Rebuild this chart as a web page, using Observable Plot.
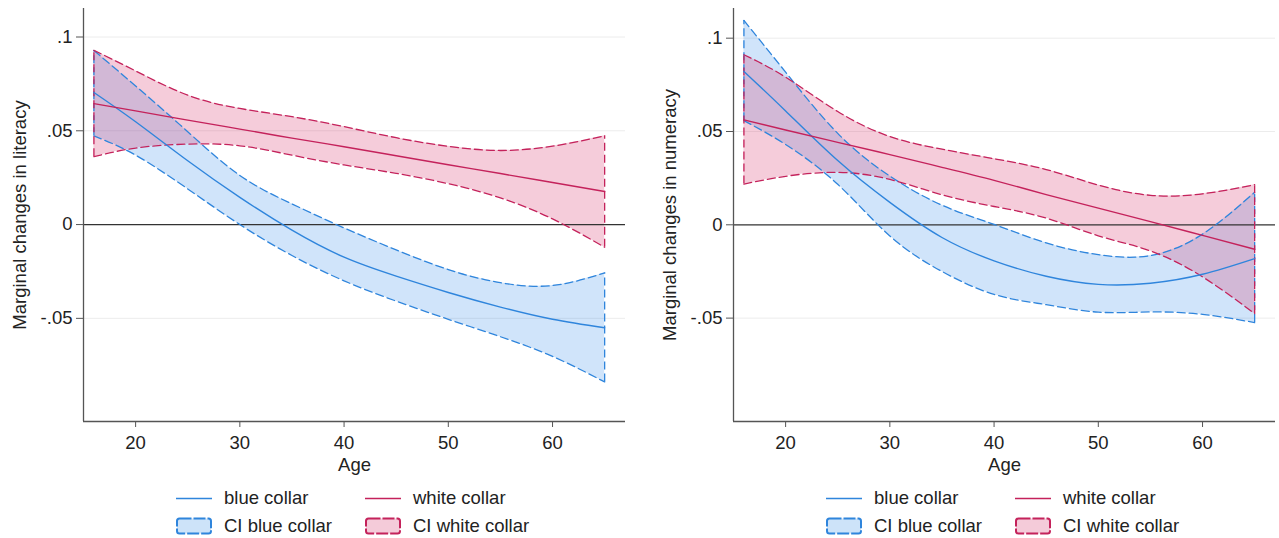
<!DOCTYPE html>
<html><head><meta charset="utf-8">
<script src="https://cdn.jsdelivr.net/npm/d3@7"></script>
<script src="https://cdn.jsdelivr.net/npm/@observablehq/plot@0.6"></script>
<style>
body{margin:0;background:#fff;font-family:"Liberation Sans",Arial,sans-serif;}
#wrap{display:flex;width:1279px;height:538px;overflow:hidden;}
.panel{position:relative;}
.legend{position:relative;height:63px;font-size:18.5px;color:#222;}
.legend .t{position:absolute;line-height:24px;white-space:nowrap;}
.legend svg{position:absolute;overflow:visible;}
</style></head><body><div id="wrap"></div><script>
// ---- data ----
const ages = [16, 20, 25, 30, 35, 40, 45, 50, 55, 60, 65];

const litBlue    = [0.0704, 0.0548, 0.0340, 0.0145, -0.0030, -0.0174, -0.0275, -0.0362, -0.0440, -0.0505, -0.0550];
const litBlueHi  = [0.0928, 0.0739, 0.0495, 0.0262, 0.0110, -0.0018, -0.0135, -0.0240, -0.0310, -0.0325, -0.0258];
const litBlueLo  = [0.0473, 0.0370, 0.0190, 0.0000, -0.0165, -0.0300, -0.0408, -0.0505, -0.0598, -0.0703, -0.0839];
const litWhite   = [0.0645, 0.0606, 0.0557, 0.0509, 0.0461, 0.0415, 0.0367, 0.0319, 0.0272, 0.0224, 0.0176];
const litWhiteHi = [0.0929, 0.0819, 0.0690, 0.0619, 0.0575, 0.0522, 0.0463, 0.0417, 0.0395, 0.0418, 0.0473];
const litWhiteLo = [0.0362, 0.0408, 0.0429, 0.0420, 0.0370, 0.0318, 0.0273, 0.0218, 0.0142, 0.0030, -0.0121];

const numBlue    = [0.0822, 0.0610, 0.0344, 0.0120, -0.0068, -0.0193, -0.0276, -0.0319, -0.0313, -0.0265, -0.0181];
const numBlueHi  = [0.1095, 0.0818, 0.0490, 0.0261, 0.0105, 0.0002, -0.0097, -0.0160, -0.0165, -0.0050, 0.0174];
const numBlueLo  = [0.0558, 0.0430, 0.0217, -0.0060, -0.0250, -0.0373, -0.0428, -0.0468, -0.0467, -0.0480, -0.0524];
const numWhite   = [0.0562, 0.0508, 0.0442, 0.0376, 0.0308, 0.0238, 0.0162, 0.0089, 0.0017, -0.0057, -0.0131];
const numWhiteHi = [0.0911, 0.0791, 0.0607, 0.0473, 0.0405, 0.0354, 0.0296, 0.0213, 0.0158, 0.0166, 0.0215];
const numWhiteLo = [0.0218, 0.0260, 0.0281, 0.0243, 0.0161, 0.0098, 0.0036, -0.0059, -0.0140, -0.0279, -0.0476];

const xTicks = [20, 30, 40, 50, 60];
const yTicks = [-0.05, 0, 0.05, 0.1];
const gridTicks = [-0.05, 0.05, 0.1];
const xLabel = "Age";
const yLabels = ["Marginal changes in literacy", "Marginal changes in numeracy"];
const legendLabels = ["blue collar", "white collar", "CI blue collar", "CI white collar"];

// ---- styling ----
const BLUE = "#2f85dc", BLUE_FILL = "#2a82e6";
const PINK = "#c4225b", PINK_FILL = "#d8336d";
const DASH = "8,4";

const fmt = d => d === 0 ? "0" : String(d).replace("0.", ".");

function build(blue, blueHi, blueLo, white, whiteHi, whiteLo) {
  return ages.map((age, i) => ({age, blue: blue[i], blueHi: blueHi[i], blueLo: blueLo[i],
    white: white[i], whiteHi: whiteHi[i], whiteLo: whiteLo[i]}));
}

function chart(rows, yLabel, width, marginRight, yDomain) {
  const ends = rows.filter((d, i) => i === 0 || i === rows.length - 1);
  return Plot.plot({
    width, height: 475,
    marginLeft: 83, marginRight, marginTop: 8, marginBottom: 54,
    x: {domain: [15, 67]},
    y: {domain: yDomain},
    style: {fontFamily: "'Liberation Sans', Arial, sans-serif", fontSize: "18.5px", color: "#222", background: "#fff", overflow: "visible"},
    marks: [
      Plot.ruleY(gridTicks, {stroke: "#ececec", strokeWidth: 1}),
      Plot.areaY(rows, {x: "age", y1: "blueLo", y2: "blueHi", fill: BLUE_FILL, fillOpacity: 0.22, curve: "natural"}),
      Plot.areaY(rows, {x: "age", y1: "whiteLo", y2: "whiteHi", fill: PINK_FILL, fillOpacity: 0.25, curve: "natural"}),
      Plot.ruleY([0], {stroke: "#333", strokeWidth: 1.3}),
      Plot.lineY(rows, {x: "age", y: "blueHi", stroke: BLUE, strokeWidth: 1.3, strokeDasharray: DASH, curve: "natural"}),
      Plot.lineY(rows, {x: "age", y: "blueLo", stroke: BLUE, strokeWidth: 1.3, strokeDasharray: DASH, curve: "natural"}),
      Plot.ruleX(ends, {x: "age", y1: "blueLo", y2: "blueHi", stroke: BLUE, strokeWidth: 1.3, strokeDasharray: DASH}),
      Plot.lineY(rows, {x: "age", y: "whiteHi", stroke: PINK, strokeWidth: 1.3, strokeDasharray: DASH, curve: "natural"}),
      Plot.lineY(rows, {x: "age", y: "whiteLo", stroke: PINK, strokeWidth: 1.3, strokeDasharray: DASH, curve: "natural"}),
      Plot.ruleX(ends, {x: "age", y1: "whiteLo", y2: "whiteHi", stroke: PINK, strokeWidth: 1.3, strokeDasharray: DASH}),
      Plot.lineY(rows, {x: "age", y: "blue", stroke: BLUE, strokeWidth: 1.4, curve: "natural"}),
      Plot.lineY(rows, {x: "age", y: "white", stroke: PINK, strokeWidth: 1.4, curve: "natural"}),
      Plot.ruleX([15], {stroke: "#555", strokeWidth: 1.3}),
      Plot.ruleY([yDomain[0]], {stroke: "#555", strokeWidth: 1.3}),
      Plot.axisX({ticks: xTicks, tickSize: 6, tickPadding: 8, stroke: "#555",
        label: xLabel, labelAnchor: "center", labelOffset: 49, labelArrow: "none"}),
      Plot.axisY({ticks: yTicks, tickSize: 7, tickPadding: 4, tickFormat: fmt, stroke: "#555",
        label: yLabel, labelAnchor: "center", labelOffset: 71, labelArrow: "none"})
    ]
  });
}

function legend() {
  const div = document.createElement("div");
  div.className = "legend";
  const ns = "http://www.w3.org/2000/svg";
  const items = [
    {label: legendLabels[0], kind: "line", color: BLUE, x: 176, cy: 23},
    {label: legendLabels[1], kind: "line", color: PINK, x: 365, cy: 23},
    {label: legendLabels[2], kind: "box", color: BLUE, fill: "#cde3f9", x: 176, cy: 51},
    {label: legendLabels[3], kind: "box", color: PINK, fill: "#f4cbd9", x: 365, cy: 51}
  ];
  for (const it of items) {
    const s = document.createElementNS(ns, "svg");
    s.setAttribute("width", 36); s.setAttribute("height", 18);
    s.style.left = it.x + "px"; s.style.top = (it.cy - 9) + "px";
    if (it.kind === "line") {
      const l = document.createElementNS(ns, "line");
      l.setAttribute("x1", 0); l.setAttribute("x2", 36); l.setAttribute("y1", 9.5); l.setAttribute("y2", 9.5);
      l.setAttribute("stroke", it.color); l.setAttribute("stroke-width", 1.5);
      s.appendChild(l);
    } else {
      const r = document.createElementNS(ns, "rect");
      r.setAttribute("x", 1); r.setAttribute("y", 1.5); r.setAttribute("width", 34); r.setAttribute("height", 15);
      r.setAttribute("rx", 2.5);
      r.setAttribute("fill", it.fill); r.setAttribute("stroke", it.color); r.setAttribute("stroke-width", 2);
      r.setAttribute("stroke-dasharray", "12,2");
      s.appendChild(r);
    }
    div.appendChild(s);
    const t = document.createElement("div");
    t.className = "t"; t.textContent = it.label;
    t.style.left = (it.x + 48) + "px"; t.style.top = (it.cy - 12) + "px";
    div.appendChild(t);
  }
  return div;
}

const wrap = document.getElementById("wrap");
const specs = [
  {rows: build(litBlue, litBlueHi, litBlueLo, litWhite, litWhiteHi, litWhiteLo), label: yLabels[0], width: 650, mr: 25, yd: [-0.105, 0.1152]},
  {rows: build(numBlue, numBlueHi, numBlueLo, numWhite, numWhiteHi, numWhiteLo), label: yLabels[1], width: 629, mr: 4, yd: [-0.1054, 0.1159]}
];
for (const s of specs) {
  const p = document.createElement("div");
  p.className = "panel";
  p.style.width = s.width + "px";
  p.appendChild(chart(s.rows, s.label, s.width, s.mr, s.yd));
  p.appendChild(legend());
  wrap.appendChild(p);
}
</script></body></html>
